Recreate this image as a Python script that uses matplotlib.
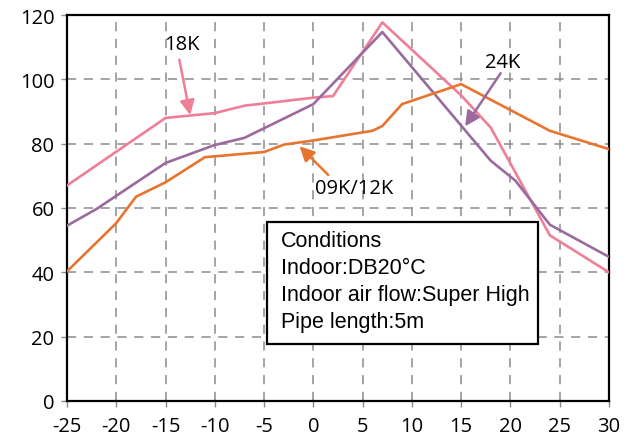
import matplotlib
matplotlib.use("Agg")
import matplotlib.pyplot as plt
from matplotlib.patches import Rectangle

# outdoor temp (deg C) vs capacity (%)
pink_x = [-25, -15, -10, -7, -5, 0, 2, 7, 15, 18, 24, 30]
pink_y = [67, 88, 89.5, 91.8, 92.5, 94.3, 94.8, 117.7, 95, 85, 51.5, 40]

purple_x = [-25, -22, -15, -10, -7, 0, 7, 18, 20.5, 24, 30]
purple_y = [54.5, 59.7, 74, 79.6, 81.8, 92.3, 114.7, 74.7, 68.5, 54.8, 44.8]

orange_x = [-25, -20, -18, -15, -11, -5, -3, 0, 6, 7, 9, 15, 24, 30]
orange_y = [40.3, 55.3, 63.5, 68, 75.8, 77.4, 79.7, 81, 84, 85.5, 92.3, 98.5, 84, 78.3]

x_ticks = [-25, -20, -15, -10, -5, 0, 5, 10, 15, 20, 25, 30]
x_labels = ["-25", "-20", "-15", "-10", "-5", "0", "5", "10", "15", "20", "25", "30"]
y_ticks = [0, 20, 40, 60, 80, 100, 120]

conditions = ["Conditions", "Indoor:DB20\u00b0C",
              "Indoor air flow:Super High", "Pipe length:5m"]

PINK = "#EE7F97"
PURPLE = "#9A6A9F"
ORANGE = "#E7752F"
TICKFONT = "Open Sans"

fig = plt.figure(figsize=(6.36, 4.39), dpi=100)
ax = fig.add_axes([67/636, 1-402/439, 542/636, 386/439])

ax.plot(pink_x, pink_y, color=PINK, lw=1.9, zorder=3)
ax.plot(purple_x, purple_y, color=PURPLE, lw=1.9, zorder=3)
ax.plot(orange_x, orange_y, color=ORANGE, lw=1.9, zorder=3)

ax.set_xlim(-25, 30)
ax.set_ylim(0, 120)
ax.set_xticks(x_ticks)
ax.set_xticklabels(x_labels)
ax.set_yticks(y_ticks)
ax.grid(True, color="#8c8c8c", ls=(0, (6, 5)), lw=1.1)
ax.set_axisbelow(True)
for s in ax.spines.values():
    s.set_linewidth(1.6)
    s.set_color("black")
ax.tick_params(length=4, width=1, color="#8c8c8c", labelsize=14.5)
ax.tick_params(axis="y", pad=5)
ax.tick_params(axis="x", pad=6.5)
for lbl in ax.get_xticklabels() + ax.get_yticklabels():
    lbl.set_family(TICKFONT)

# curve labels and arrows
lab = dict(fontsize=14.5, family=TICKFONT, ha="center", va="center")
ax.text(-13.3, 111, "18K", **lab)
ax.text(19.2, 105.4, "24K", **lab)
ax.text(4.1, 66.2, "09K/12K", **lab)
arrows = [((-13.6, 106.1), (-12.5, 88.9), PINK),
          ((19.0, 101.9), (15.4, 85.4), PURPLE),
          ((1.5, 70.3), (-1.4, 79.2), ORANGE)]
for start, tip, col in arrows:
    ax.annotate("", xy=tip, xytext=start,
                arrowprops=dict(arrowstyle="-|>", color=col, lw=1.8,
                                mutation_scale=22, shrinkA=0, shrinkB=0))

ax.add_patch(Rectangle((-4.68, 17.7), 27.5, 37.8, facecolor="white",
                       edgecolor="black", lw=1.6, zorder=4))
for i, line in enumerate(conditions):
    ax.text(-3.3, 50.0 - i * 8.4, line, fontsize=15.5,
            family="Liberation Sans", va="center", ha="left", zorder=5)

fig.savefig("out.png", dpi=100)
